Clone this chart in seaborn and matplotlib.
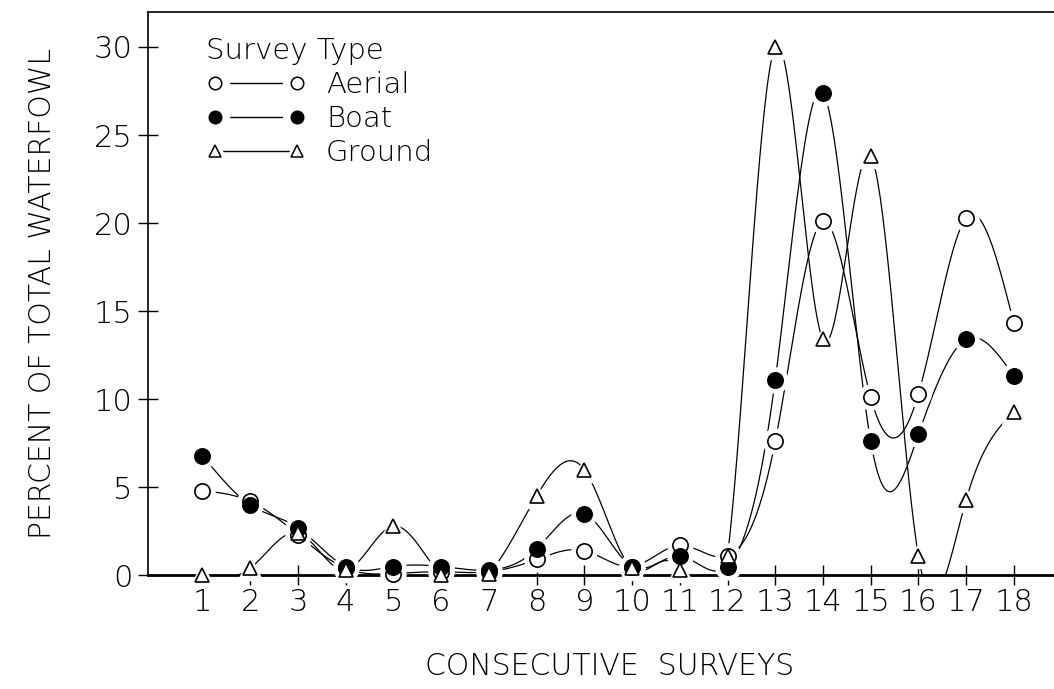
import numpy as np
import pandas as pd
import matplotlib
matplotlib.use("Agg")
import matplotlib.pyplot as plt
from matplotlib.lines import Line2D
from matplotlib.legend_handler import HandlerTuple
import seaborn as sns

surveys = list(range(1, 19))
aerial = [4.8, 4.2, 2.3, 0.4, 0.1, 0.2, 0.2, 0.9, 1.4, 0.5, 1.7, 1.1, 7.6, 20.1, 10.1, 10.3, 20.3, 14.3]
boat = [6.8, 4.0, 2.7, 0.5, 0.5, 0.5, 0.3, 1.5, 3.5, 0.5, 1.1, 0.5, 11.1, 27.4, 7.6, 8.0, 13.4, 11.3]
ground = [0.0, 0.4, 2.4, 0.3, 2.8, 0.0, 0.1, 4.5, 6.0, 0.4, 0.3, 1.1, 30.0, 13.4, 23.8, 1.1, 4.3, 9.3]
series_names = ["Aerial", "Boat", "Ground"]
yticks = [0, 5, 10, 15, 20, 25, 30]


def natural_spline(x, y, n=40):
    x = np.asarray(x, float)
    y = np.asarray(y, float)
    k = len(x)
    h = np.diff(x)
    A = np.zeros((k, k))
    b = np.zeros(k)
    A[0, 0] = 1
    A[-1, -1] = 1
    for i in range(1, k - 1):
        A[i, i - 1] = h[i - 1]
        A[i, i] = 2 * (h[i - 1] + h[i])
        A[i, i + 1] = h[i]
        b[i] = 6 * ((y[i + 1] - y[i]) / h[i] - (y[i] - y[i - 1]) / h[i - 1])
    M = np.linalg.solve(A, b)
    xs, ys = [], []
    for i in range(k - 1):
        t = np.linspace(x[i], x[i + 1], n, endpoint=(i == k - 2))
        a = x[i + 1] - t
        c = t - x[i]
        s = (M[i] * a ** 3 + M[i + 1] * c ** 3) / (6 * h[i]) \
            + (y[i] / h[i] - M[i] * h[i] / 6) * a \
            + (y[i + 1] / h[i] - M[i + 1] * h[i] / 6) * c
        xs.append(t)
        ys.append(s)
    return np.concatenate(xs), np.concatenate(ys)


sns.set_theme(style="ticks")
plt.rcParams["font.family"] = ["DejaVu Sans"]
plt.rcParams["font.weight"] = "light"
plt.rcParams["text.color"] = "black"
plt.rcParams["axes.labelcolor"] = "black"
plt.rcParams["axes.labelweight"] = "light"

fig = plt.figure(figsize=(10.54, 6.89), dpi=100)
ax = fig.add_axes([0.140, 0.165, 0.860, 0.818])

styles = {
    "Aerial": dict(marker="o", mfc="white", ms=11),
    "Boat": dict(marker="o", mfc="black", ms=11),
    "Ground": dict(marker="^", mfc="white", ms=10.5),
}
data = {"Aerial": aerial, "Boat": boat, "Ground": ground}

rows = []
for name in series_names:
    xs, ys = natural_spline(surveys, data[name])
    for a, b in zip(xs, ys):
        rows.append((name, a, b))
curve = pd.DataFrame(rows, columns=["type", "x", "y"])
sns.lineplot(data=curve, x="x", y="y", hue="type", units="type", estimator=None,
             palette={n: "black" for n in series_names}, lw=0.9, legend=False,
             ax=ax, sort=False, zorder=2)

for name in series_names:
    st = styles[name]
    ax.plot(surveys, data[name], ls="none", marker=st["marker"], ms=st["ms"] + 7,
            mfc="white", mec="white", zorder=3, clip_on=False)
for name in series_names:
    st = styles[name]
    ax.plot(surveys, data[name], ls="none", marker=st["marker"], ms=st["ms"],
            mfc=st["mfc"], mec="black", mew=1.2, zorder=4, clip_on=False)

ax.set_xlim(-0.15, 18.84)
ax.set_ylim(0, 32)
ax.set_xticks(surveys)
ax.set_xticklabels([str(s) for s in surveys])
ax.set_yticks(yticks)
ax.tick_params(axis="both", which="major", direction="inout", length=14, width=1,
               labelsize=22, colors="black", pad=4)
ax.tick_params(axis="x", pad=2)

for side in ["left", "top", "bottom"]:
    ax.spines[side].set_visible(True)
    ax.spines[side].set_color("black")
ax.spines["right"].set_visible(False)
ax.spines["left"].set_linewidth(1.2)
ax.spines["top"].set_linewidth(1.2)
ax.spines["bottom"].set_linewidth(2.0)

ax.set_xlabel("CONSECUTIVE  SURVEYS", fontsize=21.5, labelpad=25, color="black")
ax.xaxis.label.set_x(0.51)
ax.set_ylabel("PERCENT OF TOTAL WATERFOWL", fontsize=21.5, labelpad=26, color="black")

handles = []
for name in series_names:
    st = styles[name]
    line = Line2D([0, 1], [0, 0], color="black", lw=1)
    halo = Line2D([0, 1], [0, 0], ls="none", marker=st["marker"], ms=20,
                  mfc="white", mec="white")
    mk = Line2D([0, 1], [0, 0], ls="none", marker=st["marker"], ms=9,
                mfc=st["mfc"], mec="black", mew=1.1)
    handles.append((line, halo, mk))
leg = ax.legend(handles, series_names, title="Survey Type", loc="upper left",
                bbox_to_anchor=(0.052, 0.975), frameon=False, numpoints=2,
                handler_map={tuple: HandlerTuple(ndivide=1, pad=0)},
                prop={"size": 21, "weight": "light"}, title_fontsize=21,
                handlelength=3.4, handletextpad=0.7,
                labelspacing=0.2, borderaxespad=0)
leg.get_title().set_fontweight("light")
leg._legend_box.align = "left"

fig.savefig("out.png", dpi=100)
